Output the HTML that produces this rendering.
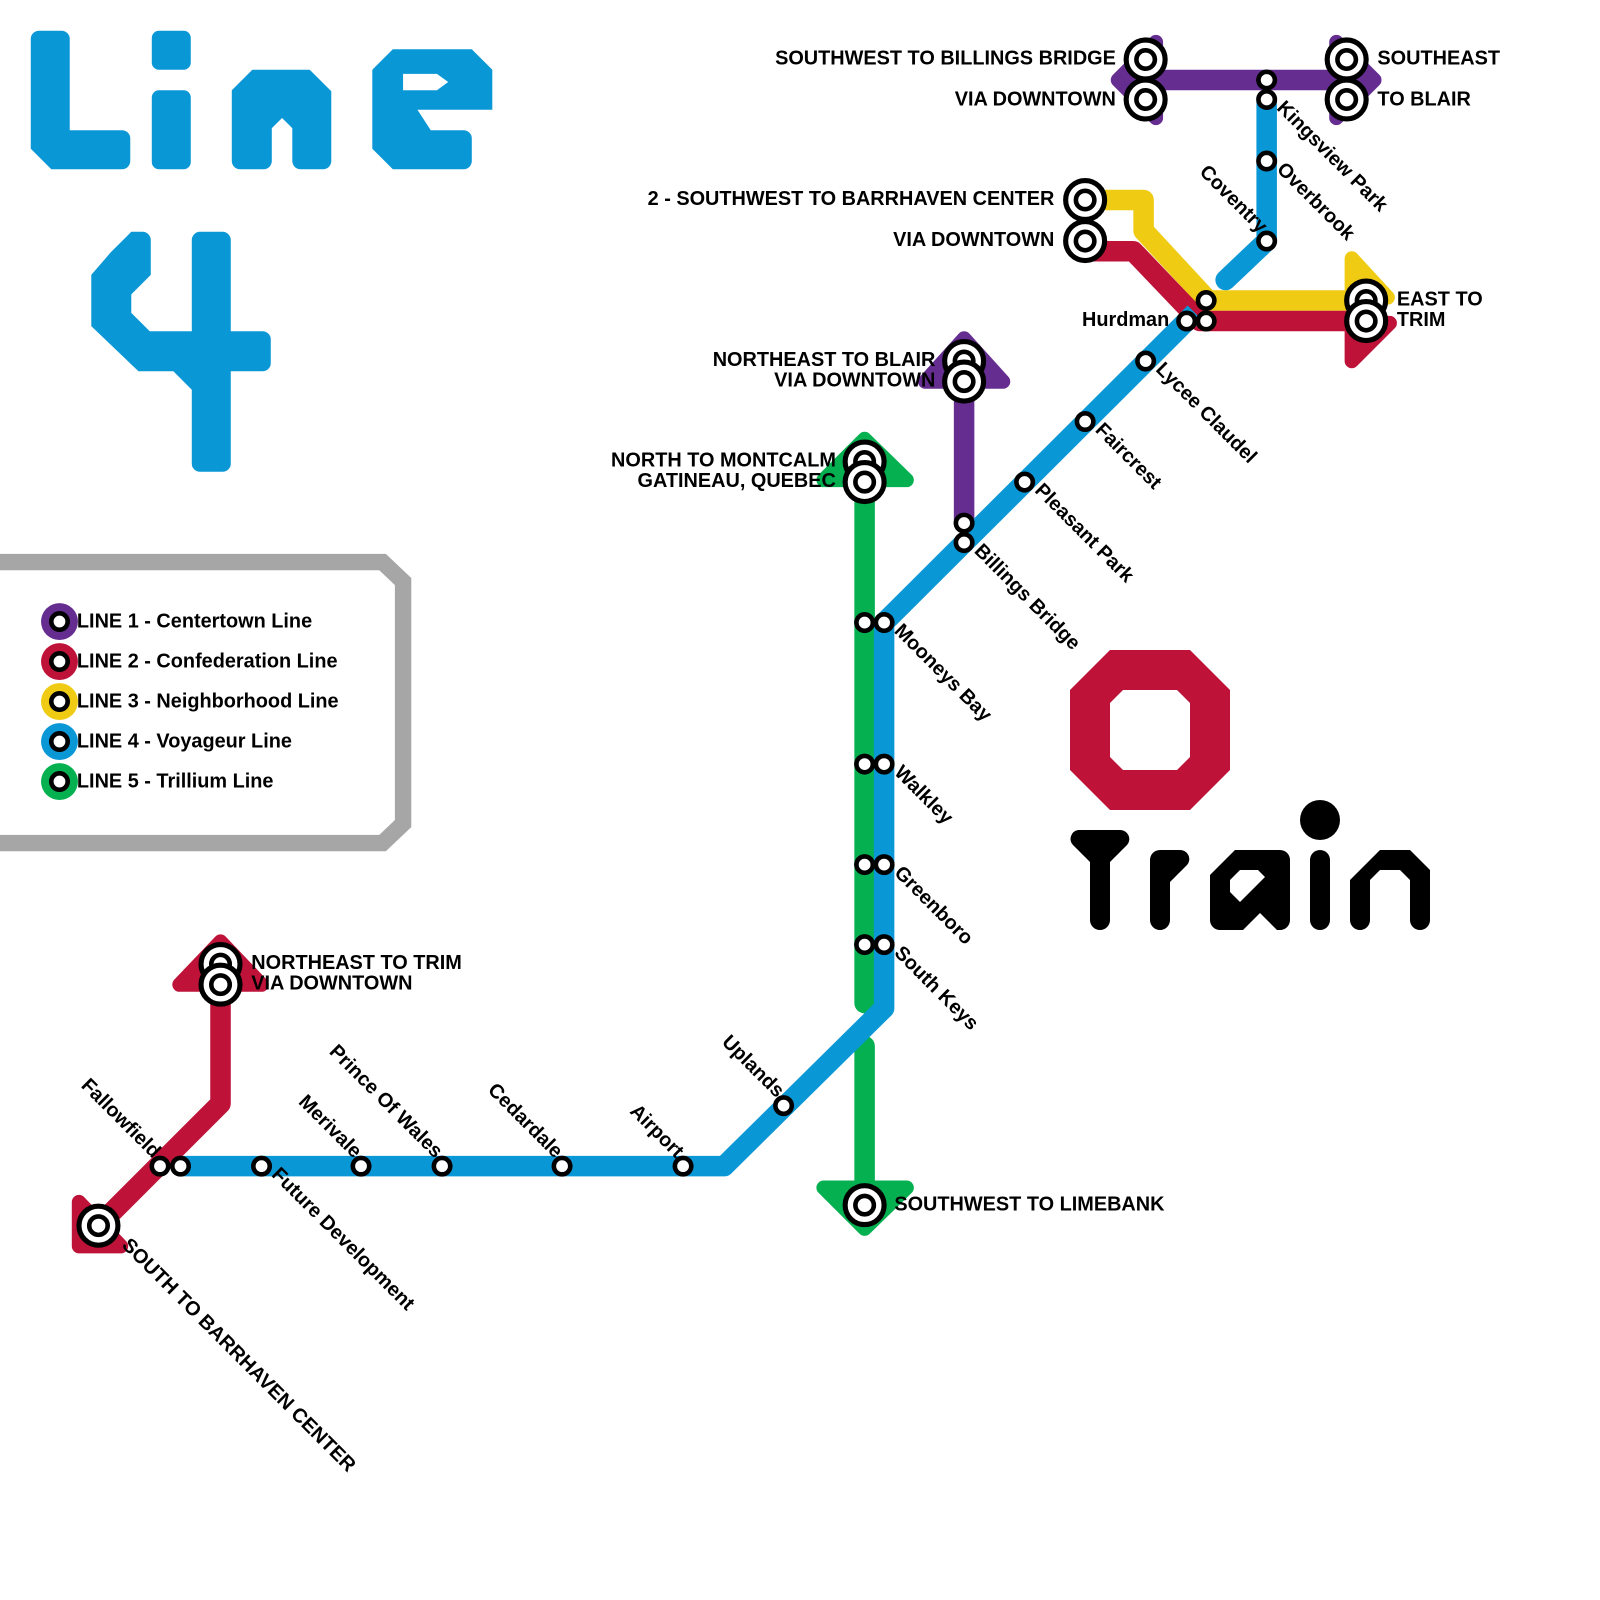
<!DOCTYPE html>
<html><head><meta charset="utf-8"><style>
html,body{margin:0;padding:0;background:#fff}
svg{display:block}
text{font-family:"Liberation Sans",sans-serif;font-weight:bold;font-size:19.4px;fill:#000}
</style></head><body>
<svg width="1600" height="1600" viewBox="0 0 1560 1560" xmlns="http://www.w3.org/2000/svg">
<defs>
<g id="st"><circle r="8" fill="#fff" stroke="#000" stroke-width="4.5"/></g>
<g id="tm"><circle r="19" fill="#fff" stroke="#000" stroke-width="5"/><circle r="9" fill="#fff" stroke="#000" stroke-width="4.5"/></g>
</defs>
<g fill="#0a97d6">
<path d="M38,30 H60 a8,8 0 0 1 8,8 V127 H119 a8,8 0 0 1 8,8 V157 a8,8 0 0 1 -8,8 H50 L30,145 V38 a8,8 0 0 1 8,-8Z"/>
<rect x="148" y="30" width="38" height="38" rx="7"/>
<rect x="148" y="88" width="38" height="77" rx="7"/>
<path d="M234,165 a8,8 0 0 1 -8,-8 V88 L246,68 H302 L323,89 V157 a8,8 0 0 1 -8,8 H293 a8,8 0 0 1 -8,-8 V125 L275,115 L265,125 V157 a8,8 0 0 1 -8,8Z"/>
<path d="M363,68 L383,48 H460 L480,68 V107 H407 L420,127 H452 a8,8 0 0 1 8,8 V157 a8,8 0 0 1 -8,8 H383 L363,145Z"/>
<path d="M108,246 L128,226 H139 a8,8 0 0 1 8,8 V268 L128,287 V305 L146,323 H187 V234 a8,8 0 0 1 8,-8 H217 a8,8 0 0 1 8,8 V323 H256 a8,8 0 0 1 8,8 V354 a8,8 0 0 1 -8,8 H225 V452 a8,8 0 0 1 -8,8 H195 a8,8 0 0 1 -8,-8 V380 L169,362 H135 L89,318 V268Z"/>
</g>
<path d="M393,72 L426,72 L437,80 L426,88 L393,88Z" fill="#fff"/>
<path d="M0,548 H373 L393,567 V803 L373,822 H0" fill="none" stroke="#a6a6a6" stroke-width="16"/>
<g>
<circle cx="58" cy="606" r="18" fill="#662d91"/><use href="#st" x="58" y="606"/>
<circle cx="58" cy="645" r="18" fill="#be1238"/><use href="#st" x="58" y="645"/>
<circle cx="58" cy="684" r="18" fill="#efcb13"/><use href="#st" x="58" y="684"/>
<circle cx="58" cy="723" r="18" fill="#0a97d6"/><use href="#st" x="58" y="723"/>
<circle cx="58" cy="762" r="18" fill="#04b050"/><use href="#st" x="58" y="762"/>
<text x="75" y="612">LINE 1 - Centertown Line</text>
<text x="75" y="651">LINE 2 - Confederation Line</text>
<text x="75" y="690">LINE 3 - Neighborhood Line</text>
<text x="75" y="729">LINE 4 - Voyageur Line</text>
<text x="75" y="768">LINE 5 - Trillium Line</text>
</g>
<g transform="scale(0.975)">
<path d="M1110,650 H1190 L1230,690 V770 L1190,810 H1110 L1070,770 V690Z M1123,690 L1110,703 V757 L1123,770 H1177 L1190,757 V703 L1177,690Z" fill="#be1238" fill-rule="evenodd"/>
<g fill="#000">
<path d="M1078,830 H1120 a9,9 0 0 1 7,15 L1110,862 V920 a10,10 0 0 1 -20,0 V862 L1073,845 a9,9 0 0 1 5,-15Z"/>
<path d="M1160,850 H1180 a9,9 0 0 1 7,15 L1170,882 V920 a10,10 0 0 1 -20,0 V860 a10,10 0 0 1 10,-10Z"/>
<path d="M1235,850 H1280 a10,10 0 0 1 10,10 V920 a10,10 0 0 1 -10,10 H1277 L1260,913 L1243,930 H1220 a10,10 0 0 1 -10,-10 V875Z M1240,870 L1230,880 V892 L1240,902 L1265,877 L1258,870Z" fill-rule="evenodd"/>
<circle cx="1320" cy="820" r="20"/>
<rect x="1310" y="850" width="20" height="80" rx="10"/>
<path d="M1380,850 H1410 L1430,870 V920 a10,10 0 0 1 -20,0 V880 L1400,870 H1380 L1370,880 V920 a10,10 0 0 1 -20,0 V880Z"/>
</g>
</g>
<g fill="none" stroke-width="20" stroke-linejoin="round" stroke-linecap="round">
<path d="M1117,78 H1313" stroke="#662d91"/>
<path d="M940,372 V510" stroke="#662d91"/>
<path d="M1060,195 H1115 V225 L1178,293 H1330" stroke="#efcb13"/>
<path d="M1060,245 H1105 L1170,313 H1330" stroke="#be1238"/>
<path d="M96,1195 L215,1076 V960" stroke="#be1238"/>
<path d="M843,470 V978" stroke="#04b050"/>
<path d="M843,1020 V1175" stroke="#04b050"/>
<path d="M1235,97 V235 L1195,273" stroke="#0a97d6"/>
<path d="M1165,305 L862,607 V983 L706,1137 H176" stroke="#0a97d6" stroke-linecap="butt"/>
</g>
<path d="M1090,78 L1127,41 L1127,115Z" fill="#662d91" stroke="#662d91" stroke-width="14" stroke-linejoin="round"/>
<path d="M1340,78 L1303,41 L1303,115Z" fill="#662d91" stroke="#662d91" stroke-width="14" stroke-linejoin="round"/>
<path d="M940,330 L902,372 L978,372Z" fill="#662d91" stroke="#662d91" stroke-width="14" stroke-linejoin="round"/>
<path d="M1318,252 L1353,290 L1318,290Z" fill="#efcb13" stroke="#efcb13" stroke-width="14" stroke-linejoin="round"/>
<path d="M1355,315 L1318,352 L1318,315Z" fill="#be1238" stroke="#be1238" stroke-width="14" stroke-linejoin="round"/>
<path d="M843,428 L803,468 L884,468Z" fill="#04b050" stroke="#04b050" stroke-width="14" stroke-linejoin="round"/>
<path d="M843,1198 L803,1158 L884,1158Z" fill="#04b050" stroke="#04b050" stroke-width="14" stroke-linejoin="round"/>
<path d="M215,918 L175,960 L255,960Z" fill="#be1238" stroke="#be1238" stroke-width="14" stroke-linejoin="round"/>
<path d="M77,1172 L77,1215 L118,1215Z" fill="#be1238" stroke="#be1238" stroke-width="14" stroke-linejoin="round"/>
<g>
<use href="#st" x="1235" y="78"/><use href="#st" x="1235" y="97"/>
<use href="#st" x="1235" y="157"/><use href="#st" x="1235" y="235"/>
<use href="#st" x="1157" y="313"/><use href="#st" x="1176" y="313"/><use href="#st" x="1176" y="293"/>
<use href="#st" x="1117" y="352"/><use href="#st" x="1058" y="411"/><use href="#st" x="999" y="470"/>
<use href="#st" x="940" y="510"/><use href="#st" x="940" y="529"/>
<use href="#st" x="843" y="607"/><use href="#st" x="862" y="607"/>
<use href="#st" x="843" y="745"/><use href="#st" x="862" y="745"/>
<use href="#st" x="843" y="843"/><use href="#st" x="862" y="843"/>
<use href="#st" x="843" y="921"/><use href="#st" x="862" y="921"/>
<use href="#st" x="764" y="1078"/><use href="#st" x="666" y="1137"/><use href="#st" x="548" y="1137"/>
<use href="#st" x="431" y="1137"/><use href="#st" x="352" y="1137"/><use href="#st" x="255" y="1137"/>
<use href="#st" x="156" y="1137"/><use href="#st" x="176" y="1137"/>
<use href="#tm" x="1117" y="58"/><use href="#tm" x="1117" y="97"/>
<use href="#tm" x="1313" y="58"/><use href="#tm" x="1313" y="97"/>
<use href="#tm" x="1058" y="195"/><use href="#tm" x="1058" y="235"/>
<use href="#tm" x="1332" y="293"/><use href="#tm" x="1332" y="313"/>
<use href="#tm" x="940" y="352"/><use href="#tm" x="940" y="372"/>
<use href="#tm" x="843" y="450"/><use href="#tm" x="843" y="470"/>
<use href="#tm" x="215" y="940"/><use href="#tm" x="215" y="960"/>
<use href="#tm" x="96" y="1195"/><use href="#tm" x="843" y="1175"/>
</g>
<g>
<text x="1088" y="63" text-anchor="end">SOUTHWEST TO BILLINGS BRIDGE</text>
<text x="1088" y="103" text-anchor="end">VIA DOWNTOWN</text>
<text x="1343" y="63">SOUTHEAST</text>
<text x="1343" y="103">TO BLAIR</text>
<text x="1028" y="200" text-anchor="end">2 - SOUTHWEST TO BARRHAVEN CENTER</text>
<text x="1028" y="240" text-anchor="end">VIA DOWNTOWN</text>
<text x="1362" y="298">EAST TO</text>
<text x="1362" y="318">TRIM</text>
<text x="1140" y="318" text-anchor="end">Hurdman</text>
<text x="912" y="357" text-anchor="end">NORTHEAST TO BLAIR</text>
<text x="912" y="377" text-anchor="end">VIA DOWNTOWN</text>
<text x="815" y="455" text-anchor="end">NORTH TO MONTCALM</text>
<text x="815" y="475" text-anchor="end">GATINEAU, QUEBEC</text>
<text x="245" y="945">NORTHEAST TO TRIM</text>
<text x="245" y="965">VIA DOWNTOWN</text>
<text x="872" y="1180">SOUTHWEST TO LIMEBANK</text>
</g>
<g>
<text transform="translate(1244,106) rotate(45)">Kingsview Park</text>
<text transform="translate(1244,166) rotate(45)">Overbrook</text>
<text transform="translate(1126,361) rotate(45)">Lycee Claudel</text>
<text transform="translate(1067,420) rotate(45)">Faircrest</text>
<text transform="translate(1008,479) rotate(45)">Pleasant Park</text>
<text transform="translate(949,538) rotate(45)">Billings Bridge</text>
<text transform="translate(871,616) rotate(45)">Mooneys Bay</text>
<text transform="translate(871,754) rotate(45)">Walkley</text>
<text transform="translate(871,852) rotate(45)">Greenboro</text>
<text transform="translate(871,930) rotate(45)">South Keys</text>
<text transform="translate(264,1146) rotate(45)">Future Development</text>
<text transform="translate(118,1215) rotate(45)">SOUTH TO BARRHAVEN CENTER</text>
</g>
<g text-anchor="end">
<text transform="translate(1228,228) rotate(45)">Coventry</text>
<text transform="translate(757,1071) rotate(45)">Uplands</text>
<text transform="translate(659,1130) rotate(45)">Airport</text>
<text transform="translate(541,1130) rotate(45)">Cedardale</text>
<text transform="translate(424,1130) rotate(45)">Prince Of Wales</text>
<text transform="translate(345,1130) rotate(45)">Merivale</text>
<text transform="translate(149,1130) rotate(45)">Fallowfield</text>
</g>
</svg>
</body></html>
